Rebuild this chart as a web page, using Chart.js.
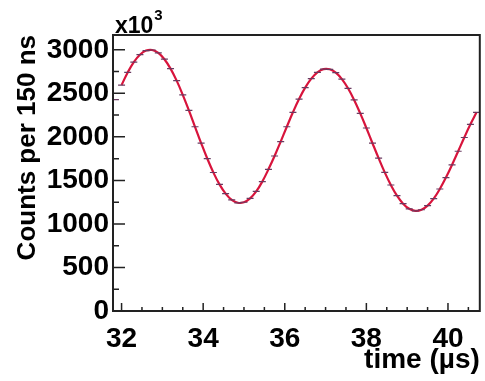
<!DOCTYPE html>
<html><head><meta charset="utf-8">
<script src="https://cdn.jsdelivr.net/npm/chart.js@4"></script>
<style>html,body{margin:0;padding:0;background:#fff}#wrap{width:485px;height:381px}</style>
</head><body><div id="wrap"><canvas id="c" width="485" height="381"></canvas></div>
<script>
// ---- data ----
const times = [31.85,32.00,32.15,32.30,32.45,32.60,32.75,32.90,33.05,33.20,
  33.35,33.50,33.65,33.80,33.95,34.10,34.25,34.40,34.55,34.70,
  34.85,35.00,35.15,35.30,35.45,35.60,35.75,35.90,36.05,36.20,
  36.35,36.50,36.65,36.80,36.95,37.10,37.25,37.40,37.55,37.70,
  37.85,38.00,38.15,38.30,38.45,38.60,38.75,38.90,39.05,39.20,
  39.35,39.50,39.65,39.80,39.95,40.10,40.25,40.40,40.55,40.70];
const counts = [2427,2595,2740,2859,2944,2991,2998,2965,2892,2784,
  2646,2483,2304,2116,1929,1751,1591,1454,1348,1276,
  1243,1249,1293,1373,1487,1627,1780,1946,2116,2282,
  2434,2566,2669,2741,2778,2776,2738,2664,2558,2424,
  2270,2102,1927,1755,1592,1447,1325,1233,1174,1151,
  1163,1211,1291,1401,1532,1679,1835,1993,2144,2282];
const fitStart = 1; // fit curve starts at 32.0 us
const xMajorTicks = [32,34,36,38,40];
const xMinorTicks = [32.5,33,33.5,34.5,35,35.5,36.5,37,37.5,38.5,39,39.5,40.5];
const yMajorTicks = [0,500,1000,1500,2000,2500,3000];
const yMinorTicks = [250,750,1250,1750,2250,2750];
const xRange = [31.79, 40.78];
const yRange = [0, 3170];
const xTitle = 'time (µs)';
const yTitle = 'Counts per 150 ns';
const expText = 'x10';
const expSup = '3';

const FONT = '"Liberation Sans", Arial, Helvetica, sans-serif';
const pts = times.map((t,i)=>({x:t,y:counts[i]}));
const fitPts = pts.slice(fitStart);

const framePlugin = {
  id:'frame',
  afterDraw(chart){
    const ctx = chart.ctx, ca = chart.chartArea;
    const xs = chart.scales.x, ys = chart.scales.y;
    ctx.save();
    ctx.strokeStyle = '#222';
    ctx.lineWidth = 2;
    ctx.strokeRect(ca.left, ca.top, ca.right-ca.left, ca.bottom-ca.top);
    ctx.lineWidth = 1.5;
    ctx.beginPath();
    yMajorTicks.forEach(v=>{const p=ys.getPixelForValue(v); ctx.moveTo(ca.left,p); ctx.lineTo(ca.left+12,p);});
    yMinorTicks.forEach(v=>{const p=ys.getPixelForValue(v); ctx.moveTo(ca.left,p); ctx.lineTo(ca.left+6,p);});
    xMajorTicks.forEach(v=>{const p=xs.getPixelForValue(v); ctx.moveTo(p,ca.bottom); ctx.lineTo(p,ca.bottom-8);});
    xMinorTicks.forEach(v=>{const p=xs.getPixelForValue(v); ctx.moveTo(p,ca.bottom); ctx.lineTo(p,ca.bottom-4);});
    ctx.stroke();
    ctx.fillStyle = '#000';
    ctx.textBaseline = 'alphabetic';
    ctx.textAlign = 'left';
    ctx.font = 'bold 23px ' + FONT;
    ctx.fillText(expText, ca.left+2, ca.top-2);
    const w = ctx.measureText(expText).width;
    ctx.font = 'bold 15px ' + FONT;
    ctx.fillText(expSup, ca.left+2+w+1, ca.top-15);
    ctx.restore();
  }
};

new Chart(document.getElementById('c'), {
  type:'scatter',
  data:{datasets:[
    {label:'data', data:pts, showLine:false, pointStyle:'line', pointRadius:3.5,
     borderColor:'#6a3a60', backgroundColor:'#6a3a60', borderWidth:1.2, order:0},
    {label:'fit', data:fitPts, showLine:true, pointRadius:0, borderColor:'#d8143c',
     borderWidth:2.2, tension:0.4, fill:false, order:1}
  ]},
  options:{
    responsive:false, animation:false, devicePixelRatio:1,
    layout:{padding:{top:35,right:3,left:0,bottom:0}},
    plugins:{legend:{display:false}, tooltip:{enabled:false}},
    scales:{
      x:{type:'linear', min:xRange[0], max:xRange[1],
        afterBuildTicks:s=>{s.ticks = xMajorTicks.map(v=>({value:v}));},
        afterFit:s=>{s.height = 70;},
        grid:{display:false, drawTicks:false}, border:{display:false},
        ticks:{color:'#000', padding:11, font:{family:FONT, size:28, weight:'bold'}, maxRotation:0, autoSkip:false,
          callback:v=>String(v)},
        title:{display:true, text:xTitle, align:'end', color:'#000', padding:{top:0,bottom:4},
          font:{family:FONT, size:28, weight:'bold'}}
      },
      y:{type:'linear', min:yRange[0], max:yRange[1],
        afterBuildTicks:s=>{s.ticks = yMajorTicks.map(v=>({value:v}));},
        afterFit:s=>{s.width = 113;},
        grid:{display:false, drawTicks:false}, border:{display:false},
        ticks:{color:'#000', padding:4, font:{family:FONT, size:28, weight:'bold'}, autoSkip:false,
          callback:v=>String(v)},
        title:{display:true, text:yTitle, align:'end', color:'#000', padding:{top:12,bottom:0},
          font:{family:FONT, size:26, weight:'bold'}}
      }
    }
  },
  plugins:[framePlugin]
});
</script>
</body></html>
